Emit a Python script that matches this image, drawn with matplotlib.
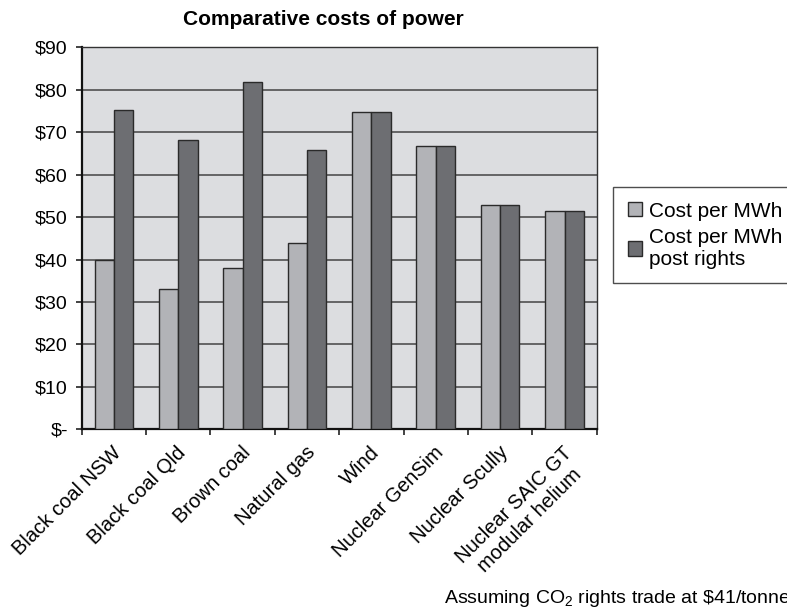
import matplotlib
matplotlib.use("Agg")
import matplotlib.pyplot as plt
import numpy as np

plt.rcParams['font.family'] = ['Liberation Sans', 'DejaVu Sans']
plt.rcParams['mathtext.fontset'] = 'custom'
plt.rcParams['mathtext.rm'] = 'Liberation Sans'
plt.rcParams['mathtext.default'] = 'regular'

# Cost of generation by source, $ per MWh
sources = ["Black coal NSW", "Black coal Qld", "Brown coal", "Natural gas",
           "Wind", "Nuclear GenSim", "Nuclear Scully",
           "Nuclear SAIC GT\nmodular helium"]
cost = [40, 33, 38, 44, 74.8, 66.7, 52.8, 51.5]
cost_post_rights = [75.2, 68.1, 81.9, 65.9, 74.8, 66.7, 52.8, 51.5]
y_ticks = [0, 10, 20, 30, 40, 50, 60, 70, 80, 90]
y_labels = ["$-"] + [f"${v}" for v in y_ticks[1:]]

FS = 14

fig = plt.figure(figsize=(7.87, 6.10), dpi=100)
ax = fig.add_axes([0.1038, 0.2962, 0.6544, 0.6263])
ax.set_facecolor("#dcdde0")

x = np.arange(len(sources))
w = 0.3
ax.bar(x - w / 2, cost, w, color="#b2b3b7", edgecolor="#2a2a2a",
       linewidth=1.0, label="Cost per MWh", zorder=3)
ax.bar(x + w / 2, cost_post_rights, w, color="#6d6e72", edgecolor="#2a2a2a",
       linewidth=1.0, label="Cost per MWh\npost rights", zorder=3)

ax.set_xlim(-0.5, len(sources) - 0.5)
ax.set_ylim(0, 90)
ax.set_yticks(y_ticks)
ax.set_yticklabels(y_labels, fontsize=FS)
ax.yaxis.grid(True, color="#505050", linewidth=1.2, zorder=1)

# tick marks on the category boundaries, labels under the centres
ax.set_xticks(np.arange(len(sources) + 1) - 0.5)
ax.set_xticklabels([])
ax.tick_params(axis='x', length=4, width=1.2, color="#222222")
ax.tick_params(axis='y', length=4, width=1.2, color="#222222", pad=6)
for xi, name in zip(x, sources):
    ax.text(xi - 0.03, -3.2, name, rotation=45, ha='right', va='top',
            rotation_mode='anchor', fontsize=14.5, multialignment='center')

for side in ["top", "right"]:
    ax.spines[side].set_color("#333333")
    ax.spines[side].set_linewidth(1.0)
for side in ["left", "bottom"]:
    ax.spines[side].set_color("#111111")
    ax.spines[side].set_linewidth(1.6)

fig.text(323.5 / 787, 1 - 25 / 610, "Comparative costs of power",
         fontsize=15, fontweight='bold', ha='center', va='baseline')

leg = fig.legend(loc='upper left', bbox_to_anchor=(613 / 787, 1 - 187 / 610),
                 fontsize=15, frameon=True, fancybox=False, edgecolor="#222222",
                 handlelength=0.68, handleheight=0.68, handletextpad=0.35,
                 borderpad=0.7, labelspacing=0.35, borderaxespad=0)
leg.get_frame().set_linewidth(1.0)

fig.text(791 / 787, 1 - 603 / 610, "Assuming CO$_2$ rights trade at \\$41/tonne",
         fontsize=FS, ha='right', va='baseline')

fig.savefig("out.png", dpi=100)
